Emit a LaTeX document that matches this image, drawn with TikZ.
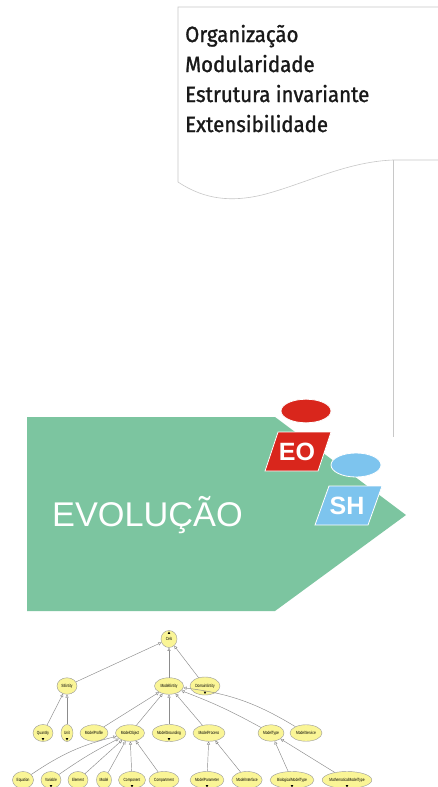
\documentclass[tikz,border=0pt]{standalone}
\usepackage{fontspec}
\setmainfont{Liberation Sans}
\newfontfamily\topfont{Fira Sans}[FakeStretch=0.93,FakeBold=1.2]
\newfontfamily\treefont{Liberation Sans}[FakeStretch=0.72]
\usetikzlibrary{shapes.geometric,arrows.meta}
\definecolor{evogreen}{RGB}{124,197,160}
\definecolor{eored}{RGB}{217,38,28}
\definecolor{shblue}{RGB}{125,196,238}
\definecolor{treefill}{RGB}{250,245,150}
\definecolor{lineg}{RGB}{200,200,200}
\newcommand\downmark[1]{\fill ([yshift=1.2pt]#1.south) -- ++(-1.3,-2.4) -- ++(2.6,0) -- cycle;}
\begin{document}
\begin{tikzpicture}[x=1pt,y=-1pt,
  toptext/.style={anchor=base west,inner sep=0,font=\topfont\fontsize{22}{22}\selectfont,text=black!90},
  tnode/.style={ellipse,draw=gray!80,fill=treefill,line width=0.4pt,inner sep=0,
     font=\treefont\fontsize{4.5}{4.5}\selectfont,minimum height=16.5},
  gen/.style={draw=gray!90,line width=0.45pt,-{Triangle[open,length=3.2pt,width=3.2pt]}},
  badge/.style={text=white,font=\bfseries\fontsize{25}{25}\selectfont,inner sep=0}]
\clip (0,0) rectangle (438,787);
\fill[white] (0,0) rectangle (438,787);
% document shape
\draw[lineg,line width=0.6pt] (438,7) -- (178,7) -- (178,182)
  .. controls (205,200) and (232,202) .. (262,195)
  .. controls (305,184) and (345,162) .. (393,160) -- (438,160);
\coordinate (vtop) at (393,160);
\coordinate (vbot) at (393,437);
\draw[lineg,line width=0.6pt] (vtop) -- (vbot);
\node[toptext] (t1) at (185,42) {Organização};
\node[toptext] (t2) at (185,72) {Modularidade};
\node[toptext] (t3) at (185,102) {Estrutura invariante};
\node[toptext] (t4) at (185,132) {Extensibilidade};
% green arrow
\fill[evogreen] (27,417) -- (275,417) -- (406,515) -- (275,611) -- (27,611) -- cycle;
\node[anchor=base west,inner sep=0,text=white,font=\fontsize{34.3}{34.3}\selectfont] (evo) at (52,526) {EVOLUÇÃO};
% EO
\filldraw[fill=eored,draw=white,line width=0.8pt] (306,411) ellipse [x radius=25,y radius=11.8];
\filldraw[fill=eored,draw=white,line width=0.8pt] (278,432) -- (331,432) -- (318,471) -- (265,471) -- cycle;
\node[badge] (eo) at (297,452) {EO};
% SH
\filldraw[fill=shblue,draw=white,line width=0.8pt] (356,465) ellipse [x radius=25,y radius=12];
\filldraw[fill=shblue,draw=white,line width=0.8pt] (329,486) -- (382,486) -- (368,525) -- (315,525) -- cycle;
\node[badge] (sh) at (347,506) {SH};
% tree nodes
\node[tnode,minimum width=16,minimum height=17] (Cels) at (169,639) {Cels};
\node[tnode,minimum width=20] (SIEntity) at (67,686) {SIEntity};
\node[tnode,minimum width=29] (ModelEntity) at (169,686) {ModelEntity};
\node[tnode,minimum width=30,minimum height=18] (DomainEntity) at (205,686) {DomainEntity};
\node[tnode,minimum width=20,minimum height=17] (Quantity) at (43,733) {Quantity};
\node[tnode,minimum width=12,minimum height=17] (Unit) at (67,733) {Unit};
\node[tnode,minimum width=28] (ModelProfile) at (94,733) {ModelProfile};
\node[tnode,minimum width=29] (ModelObject) at (130,733) {ModelObject};
\node[tnode,minimum width=32,minimum height=17] (ModelGrounding) at (169,733) {ModelGrounding};
\node[tnode,minimum width=32] (ModelProcess) at (209,733) {ModelProcess};
\node[tnode,minimum width=26] (ModelType) at (271,733) {ModelType};
\node[tnode,minimum width=32] (ModelService) at (306,733) {ModelService};
\node[tnode,minimum width=21,minimum height=17] (Equation) at (23,780) {Equation};
\node[tnode,minimum width=20,minimum height=17] (Variable) at (51,780) {Variable};
\node[tnode,minimum width=20,minimum height=17] (Element) at (78,780) {Element};
\node[tnode,minimum width=15,minimum height=17] (Model) at (104,780) {Model};
\node[tnode,minimum width=27,minimum height=17] (Component) at (132,780) {Component};
\node[tnode,minimum width=30,minimum height=17] (Compartment) at (164,780) {Compartment};
\node[tnode,minimum width=32,minimum height=17] (ModelParameter) at (207,780) {ModelParameter};
\node[tnode,minimum width=30,minimum height=17] (ModelInterface) at (247,780) {ModelInterface};
\node[tnode,minimum width=44,minimum height=17] (BiologicalModelType) at (292,780) {BiologicalModelType};
\node[tnode,minimum width=48,minimum height=17] (MathematicalModelType) at (347,780) {MathematicalModelType};
% markers
\fill ([yshift=-1.2pt]Cels.north) -- ++(-1.3,2.4) -- ++(2.6,0) -- cycle;
\downmark{DomainEntity}
\downmark{Quantity}
\downmark{Unit}
\downmark{ModelGrounding}
\downmark{Variable}
\downmark{Component}
\downmark{ModelParameter}
\downmark{BiologicalModelType}
\downmark{MathematicalModelType}
% edges
\draw[gen] (SIEntity) -- (Cels);
\draw[gen] (ModelEntity) -- (Cels);
\draw[gen] (DomainEntity) -- (Cels);
\draw[gen] (Quantity) -- (SIEntity);
\draw[gen] (Unit) -- (SIEntity);
\draw[gen] (ModelProfile) -- (ModelEntity);
\draw[gen] (ModelObject) -- (ModelEntity);
\draw[gen] (ModelGrounding) -- (ModelEntity);
\draw[gen] (ModelProcess) -- (ModelEntity);
\draw[gen] (ModelType) to[bend right=4] (ModelEntity);
\draw[gen] (ModelService) to[bend right=12] (ModelEntity);
\draw[gen] (Equation) to[bend left=10] (ModelObject);
\draw[gen] (Variable) to[bend left=4] (ModelObject);
\draw[gen] (Element) -- (ModelObject);
\draw[gen] (Model) -- (ModelObject);
\draw[gen] (Component) -- (ModelObject);
\draw[gen] (Compartment) -- (ModelObject);
\draw[gen] (ModelParameter) -- (ModelProcess);
\draw[gen] (ModelInterface) -- (ModelProcess);
\draw[gen] (BiologicalModelType) -- (ModelType);
\draw[gen] (MathematicalModelType) -- (ModelType);
\end{tikzpicture}
\end{document}
